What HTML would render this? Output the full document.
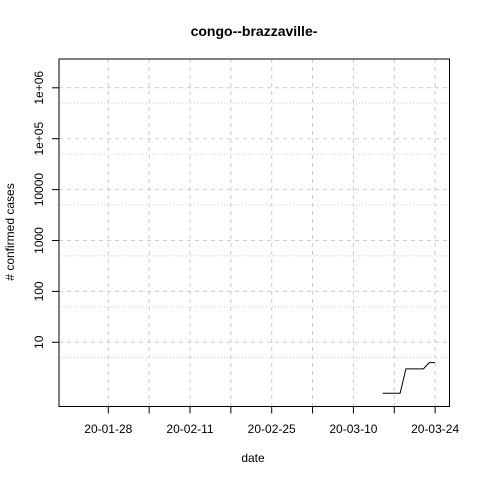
<!DOCTYPE html>
<html><head><meta charset="utf-8"><style>
body{margin:0;background:#fff;}
text{font-family:"Liberation Sans",sans-serif;fill:#000;}
</style></head><body>
<svg width="480" height="480" viewBox="0 0 480 480">
<rect width="480" height="480" fill="#fff"/>
<text x="254" y="36" text-anchor="middle" font-size="14" font-weight="bold">congo--brazzaville-</text>
<text x="253" y="462" text-anchor="middle" font-size="12">date</text>
<text transform="translate(14,232) rotate(-90)" text-anchor="middle" font-size="12"># confirmed cases</text>
<g id="grid"></g>
<g id="axes"></g>
<path id="series" fill="none" stroke="#000" stroke-width="1"/>
<rect x="59" y="59" width="390.5" height="347.5" fill="none" stroke="#000" stroke-width="1"/>
</svg>
<script>
const dates=["2020-03-15","2020-03-16","2020-03-17","2020-03-18","2020-03-19","2020-03-20","2020-03-21","2020-03-22","2020-03-23","2020-03-24"];
const cases=[1,1,1,1,3,3,3,3,4,4];
const xTickDates=["2020-01-28","2020-02-04","2020-02-11","2020-02-18","2020-02-25","2020-03-03","2020-03-10","2020-03-17","2020-03-24"];
const xTickLabels=["20-01-28","","20-02-11","","20-02-25","","20-03-10","","20-03-24"];
const yTicks=[10,100,1000,10000,100000,1000000];
const yTickLabels=["10","100","1000","10000","1e+05","1e+06"];
const yMinor=[5,50,500,5000,50000,500000];
const NS="http://www.w3.org/2000/svg";
const day0=Date.parse("2020-01-28");
function xs(d){return 108.3+(Date.parse(d)-day0)/864e5*5.836;}
function ys(v){return 393.2-Math.log10(v)*50.9;}
const grid=document.getElementById('grid'),axes=document.getElementById('axes');
function ln(p,x1,y1,x2,y2,st,dash){const l=document.createElementNS(NS,'line');l.setAttribute('x1',x1);l.setAttribute('y1',y1);l.setAttribute('x2',x2);l.setAttribute('y2',y2);l.setAttribute('stroke',st);if(dash)l.setAttribute('stroke-dasharray',dash);p.appendChild(l);return l;}
xTickDates.forEach((d,i)=>{const x=xs(d);
 const g=ln(grid,x,59,x,406.5,'#ccc','4,4');
 
 
 const t=ln(axes,x,406.5,x,413.5,'#000');
 
 
 if(xTickLabels[i]){const tx=document.createElementNS(NS,'text');tx.setAttribute('x',x);tx.setAttribute('y',433);tx.setAttribute('text-anchor','middle');tx.setAttribute('font-size','12');tx.textContent=xTickLabels[i];
 
 
 axes.appendChild(tx);}
});
yTicks.forEach((v,i)=>{const y=ys(v);
 const g=ln(grid,59,y,449.5,y,'#ccc','4,4');
 
 
 const t=ln(axes,52,y,59,y,'#000');
 
 
 const tx=document.createElementNS(NS,'text');tx.setAttribute('transform',`translate(43,${y}) rotate(-90)`);tx.setAttribute('text-anchor','middle');tx.setAttribute('font-size','12');tx.textContent=yTickLabels[i];
 
 
 axes.appendChild(tx);
});
yMinor.forEach(v=>{const y=ys(v);
 const g=ln(grid,59,y,449.5,y,'#ccc','1,2');
 
 
});
document.getElementById('series').setAttribute('d',dates.map((d,i)=>(i?'L':'M')+xs(d).toFixed(1)+','+ys(cases[i]).toFixed(1)).join(' '));
</script>
</body></html>
